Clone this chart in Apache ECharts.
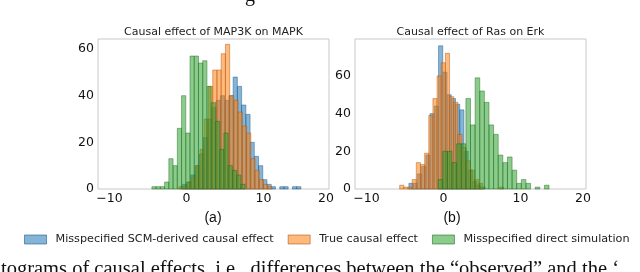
<!DOCTYPE html>
<html><head><meta charset="utf-8">
<script src="https://cdn.jsdelivr.net/npm/echarts@6/dist/echarts.min.js"></script>
<style>html,body{margin:0;padding:0;background:#fff}#c{width:640px;height:272px}</style>
</head><body><div id="c"></div>
<script>
// ---- data ----
var seriesNames = ['Misspecified SCM-derived causal effect', 'True causal effect', 'Misspecified direct simulation'];
var panelTitles = ['Causal effect of MAP3K on MAPK', 'Causal effect of Ras on Erk'];
var panelLabels = ['(a)', '(b)'];
var xTickValues = [-10, 0, 10, 20];
var yTickInterval = 20;
var xRange = [-11.5, 18.5];
var yMaxA = 64.3, yMaxB = 79.6;

// panel (a): histogram bins (start, width) and counts
var aBlueStart = -0.55, aBlueWidth = 0.55;
var aBlueCounts = [2,3,6,10,15,22,30,35,38,40,38,40,48,44,36,32,20,14,10,4,2,1,0,1,1,0,1,1];
var aOrangeStart = -1.0, aOrangeWidth = 0.55;
var aOrangeCounts = [1,1,3,5,10,17,30,44,51,51,58,62,40,38,33,27,24,13,8,4,2,1];
var aGreenStart = -4.5, aGreenWidth = 0.55;
var aGreenCounts = [1,1,1,3,13,10,26,40,24,57,57,54,55,44,37,29,17,24,10,8,6,2];

// panel (b)
var bBlueStart = -5.05, bBlueWidth = 0.55;
var bBlueCounts = [0,3,3,8,12,18,40,44,76,62,50,48,45,42,20,10,4,2,1];
var bOrangeStart = -5.7, bOrangeWidth = 0.54;
var bOrangeCounts = [2,1,1,5,14,13,19,39,48,60,67,72,49,46,29,22,15,10,5,3,0,0,0,0,1];
var bGreenStart = -0.7, bGreenWidth = 0.6;
var bGreenCounts = [5,20,20,14,24,24,48,34,59,52,46,34,29,18,14,17,10,3,5,3,0,1,0,2];

var captionTop = 'g';
var captionBottom = 'tograms of causal effects, i.e., differences between the \u201cobserved\u201d and the \u2018';

// ---- build ----
var fills = ['rgba(31,119,180,0.55)', 'rgba(255,127,14,0.55)', 'rgba(44,160,44,0.55)'];
var edges = ['rgba(20,80,130,0.55)', 'rgba(170,80,10,0.55)', 'rgba(25,100,25,0.55)'];
var FONT = 'DejaVu Sans';

function bins(start, width, counts) {
  var out = [];
  for (var i = 0; i < counts.length; i++) {
    if (counts[i] > 0) out.push([start + i * width, start + (i + 1) * width, counts[i]]);
  }
  return out;
}
function histSeries(idx, gi, data) {
  return {
    type: 'custom', name: seriesNames[idx], xAxisIndex: gi, yAxisIndex: gi,
    itemStyle: { color: fills[idx] },
    encode: { x: [0, 1], y: 2 },
    data: data,
    renderItem: function (params, api) {
      var p0 = api.coord([api.value(0), api.value(2)]);
      var p1 = api.coord([api.value(1), 0]);
      return { type: 'rect',
        shape: { x: p0[0], y: p0[1], width: p1[0] - p0[0], height: p1[1] - p0[1] },
        style: { fill: fills[idx], stroke: edges[idx], lineWidth: 0.8 } };
    }
  };
}

var grids = [
  { left: 98, top: 39, width: 231, height: 150 },
  { left: 355, top: 39, width: 231, height: 150 }
];
var yMax = [yMaxA, yMaxB];

var xAxes = [], yAxes = [];
for (var g = 0; g < 2; g++) {
  grids[g].show = true; grids[g].borderColor = '#c8c8c8'; grids[g].borderWidth = 1;
  xAxes.push({ type: 'value', gridIndex: g, min: xRange[0], max: xRange[1],
    axisLine: { show: false }, axisTick: { show: false }, splitLine: { show: false },
    axisLabel: { customValues: xTickValues.filter(function (v) { return v >= xRange[0] && v <= xRange[1]; }),
      margin: 3, color: '#111', fontFamily: FONT, fontSize: 12.5,
      formatter: function (v) { return v < 0 ? '\u2212' + Math.abs(v) : String(v); } } });
  yAxes.push({ type: 'value', gridIndex: g, min: 0, max: yMax[g], interval: yTickInterval,
    axisLine: { show: false }, axisTick: { show: false }, splitLine: { show: false },
    axisLabel: { margin: 4, color: '#111', fontFamily: FONT, fontSize: 12.5,
      showMaxLabel: false } });
}

var series = [
  histSeries(0, 0, bins(aBlueStart, aBlueWidth, aBlueCounts)),
  histSeries(1, 0, bins(aOrangeStart, aOrangeWidth, aOrangeCounts)),
  histSeries(2, 0, bins(aGreenStart, aGreenWidth, aGreenCounts)),
  histSeries(0, 1, bins(bBlueStart, bBlueWidth, bBlueCounts)),
  histSeries(1, 1, bins(bOrangeStart, bOrangeWidth, bOrangeCounts)),
  histSeries(2, 1, bins(bGreenStart, bGreenWidth, bGreenCounts))
];

var titles = panelTitles.map(function (t, i) {
  return { text: t, left: grids[i].left + grids[i].width / 2, top: 27, textAlign: 'center', padding: 0,
    textStyle: { fontFamily: FONT, fontSize: 11, fontWeight: 'normal', color: '#222' } };
});

var lastTick = xTickValues[xTickValues.length - 1];
var graphics = [];
for (var k = 0; k < 2; k++) {
  graphics.push({ type: 'text', x: grids[k].left + grids[k].width - 3, y: 192,
    style: { text: String(lastTick), font: '12.5px "DejaVu Sans"', fill: '#111', align: 'center', verticalAlign: 'top' } });
}
graphics.push({ type: 'text', x: 213, y: 218, style: { text: panelLabels[0], font: '14px "Liberation Sans"', fill: '#111', align: 'center', verticalAlign: 'middle' } });
graphics.push({ type: 'text', x: 452, y: 218, style: { text: panelLabels[1], font: '14px "Liberation Sans"', fill: '#111', align: 'center', verticalAlign: 'middle' } });
graphics.push({ type: 'text', x: 1, y: 259, style: { text: captionBottom, font: '20.5px "Liberation Serif"', fill: '#111', verticalAlign: 'top' } });
graphics.push({ type: 'text', x: 250, y: -14, style: { text: captionTop, font: '20px "Liberation Serif"', fill: '#111', align: 'center', verticalAlign: 'top' } });

var chart = echarts.init(document.getElementById('c'), null, { renderer: 'canvas' });
chart.setOption({
  animation: false,
  title: titles,
  grid: grids,
  xAxis: xAxes,
  yAxis: yAxes,
  legend: {
    left: 24, top: 234, padding: 0, itemWidth: 22, itemHeight: 9, itemGap: 14,
    data: seriesNames.map(function (n, i) { return { name: n, icon: 'rect', itemStyle: { color: fills[i], borderColor: edges[i], borderWidth: 1 } }; }),
    textStyle: { fontFamily: FONT, fontSize: 11.2, color: '#222', padding: [0, 0, 0, 4] }
  },
  series: series,
  graphic: graphics
});
</script></body></html>
